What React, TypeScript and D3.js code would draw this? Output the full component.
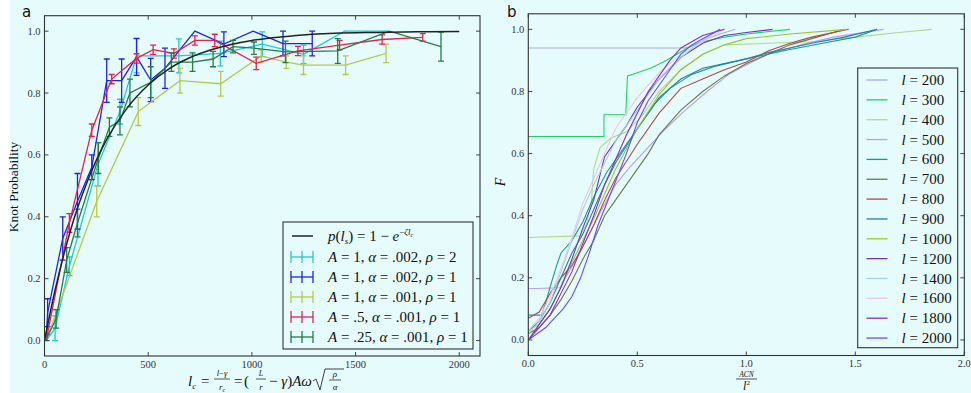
import React from 'react';
import * as d3 from 'd3';

const W = 971, H = 393;
const BG = '#e6fbfc';
const SERIF = "'Liberation Serif', 'DejaVu Serif', serif";

// ---------- Panel a data ----------
const aTicksX = [0, 500, 1000, 1500, 2000];
const aTicksY = [0, 0.2, 0.4, 0.6, 0.8, 1.0];

const fitL = [0, 50, 100, 150, 200, 250, 300, 400, 500, 600, 700, 800, 900, 1000, 1200, 1400, 1600, 1800, 2000];
const fitP = [0, 0.16, 0.295, 0.41, 0.503, 0.583, 0.65, 0.753, 0.826, 0.878, 0.914, 0.939, 0.957, 0.97, 0.985, 0.993, 0.996, 0.998, 0.999];

const cyanX = [8, 51, 120, 258, 364, 444, 648, 848, 1050, 1249, 1447, 1660];
const cyanY = [0, 0.04, 0.24, 0.57, 0.74, 0.92, 0.92, 0.928, 0.958, 0.925, 1.0, 1.0];
const cyanE = [0, 0.04, 0.03, 0.07, 0.04, 0.055, 0.055, 0.04, 0.04, 0.03, 0, 0];

const blueX = [8, 15, 88, 159, 228, 300, 372, 444, 512, 581, 725, 865, 1006, 1150, 1291];
const blueY = [0, 0.09, 0.33, 0.45, 0.56, 0.84, 0.84, 0.917, 0.842, 0.88, 1.0, 0.958, 1.0, 0.96, 0.96];
const blueE = [0, 0.045, 0.07, 0.09, 0.04, 0.07, 0.07, 0.06, 0.07, 0.065, 0, 0.04, 0, 0.04, 0.04];

const yelX = [8, 252, 452, 653, 850, 1045, 1166, 1249, 1452, 1647];
const yelY = [0, 0.45, 0.74, 0.84, 0.83, 0.92, 0.9, 0.89, 0.89, 0.928];
const yelE = [0, 0.05, 0.045, 0.04, 0.04, 0.02, 0.02, 0.03, 0.03, 0.03];

const redX = [11, 120, 228, 324, 444, 524, 624, 725, 821, 1021, 1222, 1423, 1628, 1824];
const redY = [0.01, 0.38, 0.68, 0.845, 0.912, 0.94, 0.928, 0.97, 0.97, 0.896, 0.936, 0.955, 0.973, 0.98];
const redE = [0.01, 0.03, 0.02, 0.015, 0.015, 0.015, 0.015, 0.015, 0.02, 0.02, 0.015, 0.015, 0.015, 0.012];

const grnX = [5, 56, 107, 159, 260, 313, 364, 412, 512, 612, 714, 813, 909, 1010, 1162, 1414, 1663, 1912];
const grnY = [0, 0.07, 0.26, 0.38, 0.59, 0.69, 0.71, 0.8, 0.835, 0.9, 0.9, 0.91, 0.95, 0.945, 0.933, 0.936, 1.0, 0.95];
const grnE = [0, 0.03, 0.04, 0.045, 0.05, 0.03, 0.045, 0.045, 0.05, 0.03, 0.03, 0.025, 0.02, 0.02, 0.035, 0.04, 0, 0.047];

const aSeries = [
  { key: 'c', color: '#1fc9d2', xs: cyanX, ys: cyanY, es: cyanE, label: ['1', '.002', '2'] },
  { key: 'b', color: '#2222e6', xs: blueX, ys: blueY, es: blueE, label: ['1', '.002', '1'] },
  { key: 'y', color: '#b6c94a', xs: yelX, ys: yelY, es: yelE, label: ['1', '.001', '1'] },
  { key: 'r', color: '#e3224f', xs: redX, ys: redY, es: redE, label: ['.5', '.001', '1'] },
  { key: 'g', color: '#1f7f45', xs: grnX, ys: grnY, es: grnE, label: ['.25', '.001', '1'] },
];

// ---------- Panel b data ----------
const bTicksX = [0, 0.5, 1.0, 1.5, 2.0];
const bTicksY = [0, 0.2, 0.4, 0.6, 0.8, 1.0];
const bLengths = [200, 300, 400, 500, 600, 700, 800, 900, 1000, 1200, 1400, 1600, 1800, 2000];
const bColors = ['#a9a9ea', '#18d468', '#b2d88e', '#b69cff', '#139a9a', '#667c44', '#b04848', '#2a7c9a', '#9cc432', '#7234b4', '#a6d2da', '#ebc6ea', '#8a2cca', '#6a4cf4'];

const l200X = [0, 0.72, 0.76, 0.82, 0.88, 0.95];
const l200F = [0.94, 0.94, 0.95, 0.97, 0.985, 1.0];
const l300X = [0, 0.347, 0.347, 0.447, 0.455, 0.5, 0.56, 0.62, 0.67, 0.73, 0.8, 0.9, 1.0, 1.2];
const l300F = [0.655, 0.655, 0.725, 0.725, 0.85, 0.86, 0.875, 0.895, 0.915, 0.94, 0.96, 0.975, 0.985, 1.0];
const l400X = [0, 0.24, 0.27, 0.29, 0.3, 0.33, 0.38, 0.45, 0.52, 0.6, 0.7, 0.8, 0.9, 1.1, 1.3, 1.5, 1.7, 1.85];
const l400F = [0.33, 0.335, 0.38, 0.45, 0.55, 0.62, 0.65, 0.67, 0.72, 0.8, 0.87, 0.92, 0.95, 0.955, 0.96, 0.975, 0.99, 1.0];
const l500X = [0, 0.145, 0.17, 0.22, 0.28, 0.33, 0.4, 0.47, 0.55, 0.63, 0.72, 0.82, 0.92, 1.0, 1.1, 1.25, 1.4, 1.63];
const l500F = [0.165, 0.168, 0.2, 0.26, 0.34, 0.41, 0.5, 0.56, 0.62, 0.68, 0.74, 0.8, 0.855, 0.885, 0.92, 0.95, 0.975, 1.0];
const l600X = [0, 0.06, 0.08, 0.1, 0.13, 0.15, 0.2, 0.25, 0.3, 0.36, 0.42, 0.5, 0.58, 0.65, 0.75, 0.85, 1.0, 1.2, 1.35, 1.5, 1.6];
const l600F = [0.08, 0.08, 0.12, 0.17, 0.24, 0.28, 0.32, 0.38, 0.46, 0.54, 0.6, 0.68, 0.76, 0.81, 0.855, 0.88, 0.905, 0.935, 0.955, 0.975, 1.0];
const l700X = [0, 0.05, 0.1, 0.15, 0.2, 0.25, 0.3, 0.35, 0.4, 0.45, 0.5, 0.55, 0.6, 0.7, 0.8, 0.9, 1.0, 1.1, 1.2, 1.3, 1.45];
const l700F = [0.02, 0.04, 0.08, 0.13, 0.19, 0.26, 0.32, 0.4, 0.45, 0.5, 0.55, 0.6, 0.66, 0.74, 0.8, 0.85, 0.89, 0.92, 0.95, 0.97, 1.0];
const l800X = [0, 0.05, 0.1, 0.15, 0.2, 0.25, 0.3, 0.35, 0.4, 0.5, 0.6, 0.7, 0.8, 0.9, 1.0, 1.1, 1.2, 1.3, 1.47];
const l800F = [0.07, 0.09, 0.15, 0.2, 0.24, 0.3, 0.37, 0.45, 0.52, 0.63, 0.73, 0.81, 0.84, 0.87, 0.895, 0.93, 0.955, 0.975, 1.0];
const l900X = [0, 0.05, 0.1, 0.15, 0.2, 0.25, 0.3, 0.35, 0.4, 0.5, 0.6, 0.7, 0.8, 0.9, 1.0, 1.1, 1.2, 1.3, 1.45, 1.6];
const l900F = [0.03, 0.06, 0.12, 0.2, 0.28, 0.34, 0.42, 0.5, 0.57, 0.68, 0.78, 0.84, 0.875, 0.89, 0.905, 0.925, 0.94, 0.955, 0.975, 1.0];
const l1000X = [0, 0.05, 0.1, 0.15, 0.2, 0.25, 0.3, 0.35, 0.4, 0.5, 0.6, 0.7, 0.8, 0.9, 1.0, 1.2, 1.46];
const l1000F = [0.03, 0.05, 0.1, 0.17, 0.25, 0.32, 0.39, 0.47, 0.55, 0.68, 0.79, 0.87, 0.92, 0.95, 0.97, 0.985, 1.0];
const l1200X = [0, 0.05, 0.1, 0.15, 0.2, 0.25, 0.3, 0.35, 0.4, 0.45, 0.5, 0.6, 0.7, 0.8, 0.9, 1.0, 1.12];
const l1200F = [0, 0.05, 0.1, 0.17, 0.26, 0.36, 0.45, 0.59, 0.64, 0.69, 0.75, 0.84, 0.91, 0.955, 0.98, 0.99, 1.0];
const l1400X = [0, 0.05, 0.1, 0.15, 0.2, 0.25, 0.3, 0.35, 0.4, 0.5, 0.6, 0.7, 0.8, 0.88];
const l1400F = [0.02, 0.06, 0.12, 0.22, 0.32, 0.42, 0.5, 0.57, 0.64, 0.74, 0.84, 0.91, 0.965, 1.0];
const l1600X = [0, 0.05, 0.1, 0.15, 0.2, 0.25, 0.3, 0.35, 0.4, 0.5, 0.6, 0.7, 0.8, 0.9];
const l1600F = [0.03, 0.07, 0.14, 0.23, 0.33, 0.44, 0.52, 0.6, 0.68, 0.78, 0.86, 0.92, 0.96, 1.0];
const l1800X = [0, 0.05, 0.1, 0.15, 0.2, 0.25, 0.3, 0.35, 0.4, 0.45, 0.5, 0.55, 0.6, 0.65, 0.7, 0.75, 0.8, 0.9];
const l1800F = [0, 0.04, 0.08, 0.15, 0.22, 0.31, 0.4, 0.5, 0.58, 0.66, 0.73, 0.8, 0.85, 0.9, 0.94, 0.96, 0.98, 1.0];
const l2000X = [0, 0.04, 0.08, 0.12, 0.16, 0.2, 0.24, 0.28, 0.32, 0.36, 0.4, 0.45, 0.5, 0.55, 0.6, 0.65, 0.7, 0.75, 0.8, 0.88];
const l2000F = [0, 0.02, 0.04, 0.07, 0.1, 0.14, 0.2, 0.28, 0.37, 0.44, 0.51, 0.6, 0.7, 0.77, 0.82, 0.87, 0.92, 0.95, 0.97, 1.0];

const bXs = [l200X, l300X, l400X, l500X, l600X, l700X, l800X, l900X, l1000X, l1200X, l1400X, l1600X, l1800X, l2000X];
const bFs = [l200F, l300F, l400F, l500F, l600F, l700F, l800F, l900F, l1000F, l1200F, l1400F, l1600F, l1800F, l2000F];

// ---------- scales ----------
const xA = d3.scaleLinear().domain([0, 2100]).range([44.5, 480]);
const yA = d3.scaleLinear().domain([-0.05, 1.05]).range([356, 15.7]);
const xB = d3.scaleLinear().domain([0, 2]).range([528.3, 964.3]);
const yB = d3.scaleLinear().domain([-0.05, 1.05]).range([355.5, 13.8]);

const FRAME = '#333';
const TICK = '#444';

function Frame({ x, y, ticksX, ticksY, fmtX, fmtY }: any) {
  const [x0, x1] = x.range();
  const [y0, y1] = y.range();
  const tl = 4;
  return (
    <g>
      {ticksX.map((t: number) => (
        <g key={'x' + t}>
          <line x1={x(t)} x2={x(t)} y1={y0} y2={y0 - tl} stroke={TICK} />
          <line x1={x(t)} x2={x(t)} y1={y1} y2={y1 + tl} stroke={TICK} />
          <text x={x(t)} y={y0 + 11.5} textAnchor="middle" fontSize={10.5} style={{ fontFamily: SERIF }} fill="#333">{fmtX(t)}</text>
        </g>
      ))}
      {ticksY.map((t: number) => (
        <g key={'y' + t}>
          <line x1={x0} x2={x0 + tl} y1={y(t)} y2={y(t)} stroke={TICK} />
          <line x1={x1} x2={x1 - tl} y1={y(t)} y2={y(t)} stroke={TICK} />
          <text x={x0 - 4} y={y(t) + 3.5} textAnchor="end" fontSize={10.5} style={{ fontFamily: SERIF }} fill="#333">{fmtY(t)}</text>
        </g>
      ))}
      <rect x={x0} y={y1} width={x1 - x0} height={y0 - y1} fill="none" stroke={FRAME} strokeWidth={1.1} />
    </g>
  );
}

function ErrLegendIcon({ x, y, color }: any) {
  return (
    <g stroke={color} strokeWidth={1.3}>
      <line x1={x} x2={x + 22} y1={y} y2={y} />
      <line x1={x} x2={x} y1={y - 6} y2={y + 6} />
      <line x1={x + 22} x2={x + 22} y1={y - 6} y2={y + 6} />
      <line x1={x + 11} x2={x + 11} y1={y - 6} y2={y + 6} />
    </g>
  );
}

export default function App() {
  const fitLine = d3.line<number>().x((_, i) => xA(fitL[i])).y((d) => yA(d)).curve(d3.curveMonotoneX);
  const segA = (xs: number[], ys: number[]) => d3.line<number>().x((_, i) => xA(xs[i])).y((d) => yA(d))(ys) as string;
  const segB = (xs: number[], fs: number[]) => d3.line<number>().x((_, i) => xB(xs[i])).y((d) => yB(d))(fs) as string;
  const it = { fontStyle: 'italic' } as any;
  const serif = { fontFamily: SERIF } as any;

  return (
    <div style={{ position: 'absolute', left: 0, top: 0, width: W, height: H }}>
      <svg width={W} height={H} viewBox={`0 0 ${W} ${H}`} style={{ display: 'block' }}>
        <rect x={0} y={0} width={W} height={H} fill="#ffffff" />
        <rect x={10} y={0} width={W - 10} height={H} fill={BG} />

        {/* ---------------- Panel a ---------------- */}
        <text x={22} y={17} fontSize={15} style={{ fontFamily: "'DejaVu Sans', sans-serif" }} fill="#111">a</text>
        <defs>
          <clipPath id="clipA"><rect x={44.5} y={15.7} width={435.5} height={340.3} /></clipPath>
          <clipPath id="clipB"><rect x={528.3} y={13.8} width={436} height={341.7} /></clipPath>
        </defs>
        <g clipPath="url(#clipA)">
          {aSeries.map((s) => (
            <g key={s.key} stroke={s.color} strokeWidth={1.3} fill="none">
              <path d={segA(s.xs, s.ys)} />
              {s.xs.map((xv, i) => s.es[i] > 0 ? (
                <g key={i}>
                  <line x1={xA(xv)} x2={xA(xv)} y1={yA(s.ys[i] - s.es[i])} y2={yA(s.ys[i] + s.es[i])} />
                  <line x1={xA(xv) - 3} x2={xA(xv) + 3} y1={yA(s.ys[i] - s.es[i])} y2={yA(s.ys[i] - s.es[i])} />
                  <line x1={xA(xv) - 3} x2={xA(xv) + 3} y1={yA(s.ys[i] + s.es[i])} y2={yA(s.ys[i] + s.es[i])} />
                </g>
              ) : null)}
            </g>
          ))}
          <path d={fitLine(fitP) as string} stroke="#222" strokeWidth={1.5} fill="none" />
        </g>
        <Frame x={xA} y={yA} ticksX={aTicksX} ticksY={aTicksY} fmtX={(t: number) => String(t)} fmtY={(t: number) => t.toFixed(1)} />

        {/* y label a */}
        <text transform="translate(18,187) rotate(-90)" textAnchor="middle" fontSize={13.5} style={serif} fill="#111">Knot Probability</text>

        {/* x label a */}
        <g style={serif} fill="#111">
          <text x={188} y={386} fontSize={15}><tspan style={it}>l</tspan><tspan fontSize={9} dy={3} style={it}>c</tspan></text>
          <text x={201} y={386} fontSize={15}>=</text>
          <text x={222} y={376} fontSize={8.5} textAnchor="middle"><tspan style={it}>l</tspan>−<tspan style={it}>γ</tspan></text>
          <line x1={214} x2={230} y1={379} y2={379} stroke="#111" strokeWidth={0.7} />
          <text x={222} y={390} fontSize={9} textAnchor="middle"><tspan style={it}>r</tspan><tspan fontSize={6} dy={2} style={it}>c</tspan></text>
          <text x={234} y={386} fontSize={15}>=</text>
          <text x={244} y={386} fontSize={15}>(</text>
          <text x={261} y={376} fontSize={8} textAnchor="middle" style={it}>L</text>
          <line x1={256} x2={266} y1={379} y2={379} stroke="#111" strokeWidth={0.7} />
          <text x={261} y={390} fontSize={9} textAnchor="middle" style={it}>r</text>
          <text x={269} y={386} fontSize={15}>− <tspan style={it}>γ</tspan>)<tspan style={it}>Aω</tspan></text>
          <path d="M313,381 L316,379 L320,390 L325,369 L344,369" stroke="#111" strokeWidth={0.8} fill="none" />
          <text x={335} y={377} fontSize={9} textAnchor="middle" style={it}>ρ</text>
          <line x1={329} x2={341} y1={380} y2={380} stroke="#111" strokeWidth={0.7} />
          <text x={335} y={390} fontSize={9} textAnchor="middle" style={it}>α</text>
        </g>

        {/* legend a */}
        <g style={serif} fill="#111">
          <rect x={283} y={222} width={190} height={127} fill={BG} stroke="#333" strokeWidth={1.1} />
          <line x1={292} x2={313} y1={236} y2={236} stroke="#222" strokeWidth={1.5} />
          <text x={328} y={241} fontSize={15}>
            <tspan style={it}>p</tspan>(<tspan style={it}>l</tspan><tspan fontSize={9} dy={3} style={it}>s</tspan><tspan dy={-3}>) = 1 − </tspan><tspan style={it}>e</tspan><tspan fontSize={9} dy={-6}>−</tspan><tspan fontSize={9} style={it}>ζl</tspan><tspan fontSize={6} dy={2} style={it}>c</tspan>
          </text>
          {aSeries.map((s, i) => {
            const yy = 257 + i * 20;
            return (
              <g key={s.key}>
                <ErrLegendIcon x={291} y={yy} color={s.color} />
                <text x={328} y={yy + 5} fontSize={15}>
                  <tspan style={it}>A</tspan> = {s.label[0]}, <tspan style={it}>α</tspan> = {s.label[1]}, <tspan style={it}>ρ</tspan> = {s.label[2]}
                </text>
              </g>
            );
          })}
        </g>

        {/* ---------------- Panel b ---------------- */}
        <text x={507} y={17} fontSize={15} style={{ fontFamily: "'DejaVu Sans', sans-serif" }} fill="#111">b</text>
        <g clipPath="url(#clipB)" fill="none">
          {bLengths.map((l, i) => (
            <path key={l} d={segB(bXs[i], bFs[i])} stroke={bColors[i]} strokeWidth={1.1} />
          ))}
        </g>
        <Frame x={xB} y={yB} ticksX={bTicksX} ticksY={bTicksY} fmtX={(t: number) => t.toFixed(1)} fmtY={(t: number) => t.toFixed(1)} />

        <text transform="translate(505,182) rotate(-90)" textAnchor="middle" fontSize={14} style={{ ...serif, fontStyle: 'italic' }} fill="#111">F</text>

        <g style={serif} fill="#111">
          <text x={746.5} y={376.5} fontSize={7.5} textAnchor="middle" style={it}>ACN</text>
          <line x1={736} x2={757} y1={379} y2={379} stroke="#111" strokeWidth={0.7} />
          <text x={746.5} y={390} fontSize={12} textAnchor="middle"><tspan style={it}>l</tspan><tspan fontSize={7} dy={-5}>2</tspan></text>
        </g>

        {/* legend b */}
        <g style={serif} fill="#111">
          <rect x={857.7} y={68} width={100} height={279.7} fill={BG} stroke="#333" strokeWidth={1.1} />
          {bLengths.map((l, i) => {
            const yy = 80 + i * 19.85;
            return (
              <g key={l}>
                <line x1={866.5} x2={887.5} y1={yy} y2={yy} stroke={bColors[i]} strokeWidth={1.3} />
                <text x={901.5} y={yy + 5} fontSize={15}><tspan style={it}>l</tspan> = {l}</text>
              </g>
            );
          })}
        </g>
      </svg>
    </div>
  );
}
